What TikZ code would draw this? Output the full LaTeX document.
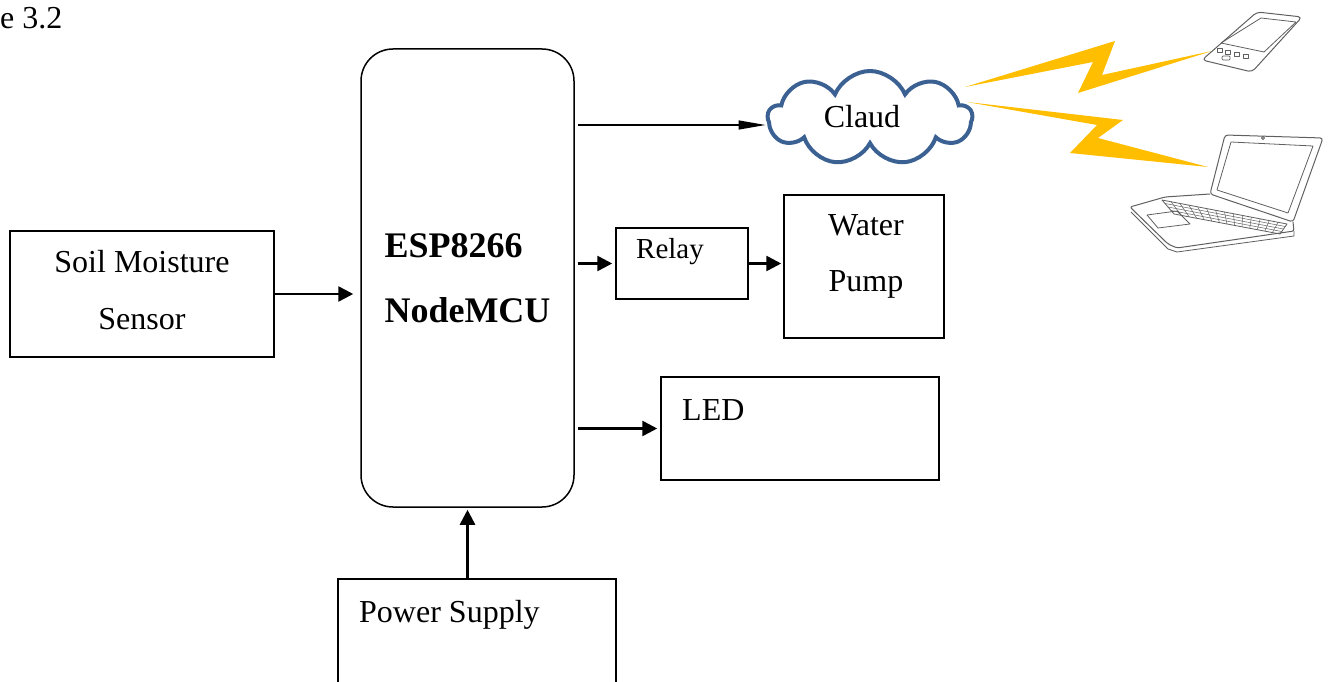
\documentclass[tikz,border=0pt]{standalone}
\usepackage{fontspec}
\setmainfont{Liberation Serif}
\usetikzlibrary{arrows.meta,shapes.symbols,calc}

\definecolor{cloudblue}{RGB}{59,97,147}
\definecolor{boltgold}{RGB}{255,190,0}
\definecolor{sketch}{RGB}{95,95,95}

\begin{document}
\begin{tikzpicture}[x=1pt,y=-1pt]
\tikzstyle{block} = [rectangle, draw=black, line width=1.5pt, inner sep=0pt]
\tikzstyle{txt} = [font=\fontsize{32}{38}\selectfont, inner sep=0pt]
\tikzstyle{edge} = [-{Triangle[length=15pt,width=15pt]}, line width=2.6pt]
\tikzstyle{thinedge} = [-{Triangle[length=27pt,width=9pt]}, line width=1.4pt]
\tikzstyle{bolt} = [fill=boltgold]
\tikzstyle{device} = [draw=sketch, line width=1pt, line join=round]
\useasboundingbox (0,0) rectangle (1331,682);

% what is left of the caption
\node[txt, anchor=base west] (fig) at (0,29) {e 3.2};

% blocks
\node[block, minimum width=264pt, minimum height=126pt] (soil) at (142,294) {};
\node[block, rounded corners=32pt, align=left, font=\bfseries\fontsize{36}{65}\selectfont, minimum width=213pt, minimum height=458pt] (mcu) at (467.5,278) {ESP8266\\NodeMCU};
\node[block, minimum width=132pt, minimum height=71pt] (relay) at (682,263.5) {};
\node[block, minimum width=160pt, minimum height=143pt] (pump) at (864,266.5) {};
\node[block, minimum width=278pt, minimum height=103pt] (led) at (800,428.5) {};
\node[block, minimum width=278pt, minimum height=104pt] (power) at (477,631) {};
\node[cloud, cloud puffs=9, cloud puff arc=135, aspect=2.1, draw=cloudblue, line width=4pt, fill=white, minimum width=204pt, minimum height=94pt, inner sep=0pt] (cloud) at (870,118) {};

% texts
\node[txt, align=center, font=\fontsize{32}{57}\selectfont] (soiltxt) at (142,290.5) {Soil Moisture\\Sensor};
\node[txt, font=\fontsize{29}{35}\selectfont, anchor=base west] (relaytxt) at (636,258) {Relay};
\node[txt, align=center, font=\fontsize{32}{56}\selectfont] (pumptxt) at (866,256) {Water\\Pump};
\node[txt, anchor=base west] (ledtxt) at (682,420) {LED};
\node[txt, anchor=base west] (powertxt) at (359,622) {Power Supply};
\node[txt] (cloudtxt) at (862,117) {Claud};

% connectors
\draw[edge, shorten >=7pt] (soil.east) -- (soil.east -| mcu.west);
\draw[thinedge, shorten <=3pt] ($(mcu.east |- cloud.west)+(0,7)$) -- ($(cloud.west)+(0,7)$);
\draw[edge, shorten <=3pt, shorten >=3pt] (mcu.east |- relay.west) -- (relay.west);
\draw[edge, shorten >=2pt] (relay.east) -- (relay.east -| pump.west);
\draw[edge, shorten <=3pt, shorten >=3pt] (mcu.east |- led.west) -- (led.west);
\draw[edge, shorten >=2pt] (power.north -| mcu.south) -- (mcu.south);

% wireless links
\fill[bolt] (965,87) -- (1115,41) -- (1102,75) -- (1212,51) -- (1078,93) -- (1093,62) -- cycle;
\fill[bolt] (967,102) -- (1123,120) -- (1098,138) -- (1208,167) -- (1070,153) -- (1097,125) -- cycle;

% phone
\draw[device, rounded corners=4pt] (1257,12) -- (1302,17) -- (1252,72) -- (1202,60) -- cycle;
\draw[device, line width=0.8pt] (1261,18) -- (1296,22) -- (1264,52) -- (1221,43) -- cycle;
\foreach \bx/\by in {1220/50, 1228/52, 1237/54, 1246/56}
  \draw[device, line width=0.7pt] (\bx-2.5,\by-2) rectangle (\bx+2.5,\by+2);
\draw[device, line width=0.7pt, rounded corners=1pt] (1222,56) rectangle (1230,60);

% laptop
\draw[device, rounded corners=3pt] (1225,135) -- (1323,138) -- (1293,222) -- (1210,194) -- cycle;
\draw[device, line width=0.8pt] (1231,142) -- (1313,146) -- (1288,213) -- (1217,190) -- cycle;
\draw[device, line width=0.8pt] (1263,138) circle (1.5pt);
\draw[device, rounded corners=2pt] (1210,194) -- (1165,197) -- (1130,207) -- (1168,244) -- (1177,248) -- (1294,231) -- (1293,222);
\draw[device, line width=0.8pt] (1131,212) -- (1168,249) -- (1177,252) -- (1294,236) -- (1294,231);
\draw[device, line width=0.8pt] (1147,215) -- (1177,211) -- (1190,224) -- (1158,228) -- cycle;
\coordinate (kb1) at (1162,200);
\coordinate (kb2) at (1287,224);
\coordinate (kb3) at (1280,234);
\coordinate (kb4) at (1174,214);
\draw[device, line width=0.8pt] (kb1) -- (kb2) -- (kb3) -- (kb4) -- cycle;
\foreach \t in {0.25,0.5,0.75}
  \draw[device, line width=0.5pt] ($(kb1)!\t!(kb4)$) -- ($(kb2)!\t!(kb3)$);
\foreach \i in {1,...,13}
  \draw[device, line width=0.5pt] ($(kb1)!{\i/14}!(kb2)$) -- ($(kb4)!{\i/14}!(kb3)$);
\end{tikzpicture}
\end{document}
